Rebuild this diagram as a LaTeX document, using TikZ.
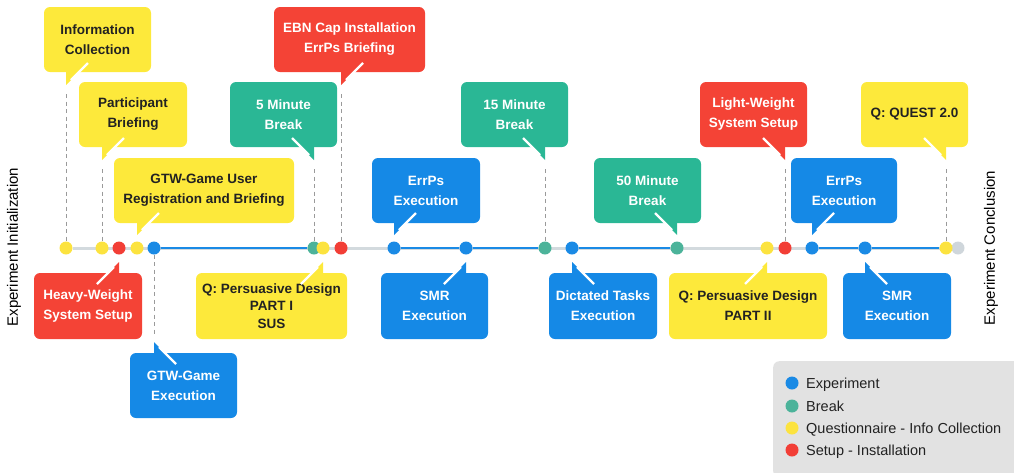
\documentclass[tikz,border=0pt]{standalone}
\usepackage{fontspec}
\setmainfont{Liberation Sans}
\definecolor{cyellow}{HTML}{FDE93B}
\definecolor{cred}{HTML}{F44336}
\definecolor{cgreen}{HTML}{2AB795}
\definecolor{cblue}{HTML}{1589E6}
\definecolor{dyellow}{HTML}{FCE33F}
\definecolor{dred}{HTML}{F23E36}
\definecolor{dgreen}{HTML}{4CB39A}
\definecolor{dblue}{HTML}{1A8AE5}
\definecolor{dgrey}{HTML}{CFD6DB}
\definecolor{ctext}{HTML}{222222}
\definecolor{lgrey}{HTML}{D3DADE}
\definecolor{legbg}{HTML}{E2E2E2}
\definecolor{dashc}{HTML}{9A9A9A}
\pgfdeclarelayer{bg}
\pgfsetlayers{bg,main}
\newcommand\mytail[5]{%
  \fill[#5] (#1,#2) -- ({#1},{#2+(#4)*15}) -- ({#1+(#3)*15},{#2+(#4)*15}) -- cycle;
  \draw[white, line width=2.2pt] ({#1+(#3)*5},{#2+(#4)*5}) -- ({#1+(#3)*22},{#2+(#4)*22});
}
\tikzset{
  bubble/.style={rounded corners=6pt, minimum height=65pt, inner sep=0pt, align=center,
    font=\fontsize{13.5pt}{20pt}\selectfont\bfseries},
  ybub/.style={bubble, fill=cyellow, text=ctext},
  rbub/.style={bubble, fill=cred, text=white},
  gbub/.style={bubble, fill=cgreen, text=white},
  bbub/.style={bubble, fill=cblue, text=white},
  dot/.style={circle, minimum size=13pt, inner sep=0pt},
  dashline/.style={draw=dashc, line width=0.9pt, dash pattern=on 4pt off 3.5pt},
  greyline/.style={draw=lgrey, line width=3pt},
  blueline/.style={draw=dblue, line width=2.8pt},
  sidelabel/.style={rotate=90, font=\fontsize{15pt}{18pt}\selectfont, text=black},
  legtext/.style={anchor=base west, inner sep=0pt, font=\fontsize{14.5pt}{17pt}\selectfont, text=ctext},
}
\begin{document}
\begin{tikzpicture}[x=1pt,y=-1pt]
\useasboundingbox (0,0) rectangle (1014,472);

% bubbles above the timeline
\node[ybub, minimum width=107pt] (b1) at (97.5,39.5) {Information\\Collection};
\node[ybub, minimum width=108pt] (b2) at (133,114.5) {Participant\\Briefing};
\node[ybub, minimum width=180pt] (b3) at (204,190.5) {GTW-Game User\\Registration and Briefing};
\node[gbub, minimum width=107pt] (b4) at (283.5,114.5) {5 Minute\\Break};
\node[rbub, minimum width=151pt] (b5) at (349.5,39.5) {EBN Cap Installation\\ErrPs Briefing};
\node[gbub, minimum width=107pt] (b6) at (514.5,114.5) {15 Minute\\Break};
\node[bbub, minimum width=108pt] (b7) at (426,190.5) {ErrPs\\Execution};
\node[gbub, minimum width=107pt] (b8) at (647.5,190.5) {50 Minute\\Break};
\node[rbub, minimum width=107pt] (b9) at (753.5,114.5) {Light-Weight\\System Setup};
\node[ybub, minimum width=107pt] (b10) at (914.5,114.5) {Q: QUEST 2.0};
\node[bbub, minimum width=106pt] (b11) at (844,190.5) {ErrPs\\Execution};

% bubbles below the timeline
\node[rbub, minimum width=108pt, minimum height=66pt] (b12) at (88,306) {Heavy-Weight\\System Setup};
\node[ybub, minimum width=151pt, minimum height=66pt, font=\fontsize{13.5pt}{17.5pt}\selectfont\bfseries] (b13) at (271.5,306) {Q: Persuasive Design\\PART I\\SUS};
\node[bbub, minimum width=107pt] (b14) at (183.5,385.5) {GTW-Game\\Execution};
\node[bbub, minimum width=107pt, minimum height=66pt] (b15) at (434.5,306) {SMR\\Execution};
\node[bbub, minimum width=108pt, minimum height=66pt] (b16) at (603,306) {Dictated Tasks\\Execution};
\node[ybub, minimum width=158pt, minimum height=66pt] (b17) at (748,306) {Q: Persuasive Design\\PART II};
\node[bbub, minimum width=108pt, minimum height=66pt] (b18) at (897,306) {SMR\\Execution};

% tails
\mytail{66}{85}{1}{-1}{cyellow}
\mytail{102}{160}{1}{-1}{cyellow}
\mytail{137}{235}{1}{-1}{cyellow}
\mytail{314}{160}{-1}{-1}{cgreen}
\mytail{341}{85}{1}{-1}{cred}
\mytail{545}{160}{-1}{-1}{cgreen}
\mytail{394}{235}{1}{-1}{cblue}
\mytail{677}{235}{-1}{-1}{cgreen}
\mytail{785}{160}{-1}{-1}{cred}
\mytail{946}{160}{-1}{-1}{cyellow}
\mytail{812}{235}{1}{-1}{cblue}
\mytail{119}{262}{-1}{1}{cred}
\mytail{323}{262}{-1}{1}{cyellow}
\mytail{154}{342}{1}{1}{cblue}
\mytail{466}{262}{-1}{1}{cblue}
\mytail{572}{262}{1}{1}{cblue}
\mytail{767}{262}{-1}{1}{cyellow}
\mytail{865}{262}{1}{1}{cblue}

% timeline dots
\node[dot, fill=dyellow] (d1) at (66,248) {};
\node[dot, fill=dyellow] (d2) at (102,248) {};
\node[dot, fill=dred] (d3) at (119,248) {};
\node[dot, fill=dyellow] (d4) at (137,248) {};
\node[dot, fill=dblue] (d5) at (154,248) {};
\node[dot, fill=dgreen] (d6) at (314,248) {};
\node[dot, fill=dyellow] (d7) at (323,248) {};
\node[dot, fill=dred] (d8) at (341,248) {};
\node[dot, fill=dblue] (d9) at (394,248) {};
\node[dot, fill=dblue] (d10) at (466,248) {};
\node[dot, fill=dgreen] (d11) at (545,248) {};
\node[dot, fill=dblue] (d12) at (572,248) {};
\node[dot, fill=dgreen] (d13) at (677,248) {};
\node[dot, fill=dyellow] (d14) at (767,248) {};
\node[dot, fill=dred] (d15) at (785,248) {};
\node[dot, fill=dblue] (d16) at (812,248) {};
\node[dot, fill=dblue] (d17) at (865,248) {};
\node[dot, fill=dgrey] (d19) at (958,248) {};
\node[dot, fill=dyellow] (d18) at (946,248) {};

\begin{pgfonlayer}{bg}
\draw[greyline] (d1) -- (d19);
\draw[blueline] (d5) -- (d6);
\draw[blueline] (d9) -- (d10) -- (d11);
\draw[blueline] (d12) -- (d13);
\draw[blueline] (d16) -- (d17) -- (d18);
\end{pgfonlayer}

% dashed connectors
\coordinate (t1) at (66,94);
\coordinate (t2) at (102,169);
\coordinate (t4) at (314,169);
\coordinate (t5) at (341,94);
\coordinate (t6) at (545,169);
\coordinate (t9) at (785,169);
\coordinate (t10) at (946,169);
\coordinate (t14) at (154,334);
\draw[dashline] (t1) -- (d1);
\draw[dashline] (t2) -- (d2);
\draw[dashline] (t4) -- (d6);
\draw[dashline] (t5) -- (d8);
\draw[dashline] (t6) -- (d11);
\draw[dashline] (t9) -- (d15);
\draw[dashline] (t10) -- (d18);
\draw[dashline] (d5) -- (t14);

% side labels
\node[sidelabel] (init) at (14,247) {Experiment Initialization};
\node[sidelabel] (concl) at (991,248) {Experiment Conclusion};

% legend
\node[fill=legbg, rounded corners=6pt, minimum width=250pt, minimum height=116pt, inner sep=0pt, anchor=north west] (leg) at (773,361) {};
\node[dot, fill=dblue] (l1) at (792,383) {};
\node[dot, fill=dgreen] (l2) at (792,406) {};
\node[dot, fill=dyellow] (l3) at (792,428) {};
\node[dot, fill=dred] (l4) at (792,450) {};
\node[legtext] (lt1) at (806,388) {Experiment};
\node[legtext] (lt2) at (806,411) {Break};
\node[legtext] (lt3) at (806,433) {Questionnaire - Info Collection};
\node[legtext] (lt4) at (806,455) {Setup - Installation};
\end{tikzpicture}
\end{document}
